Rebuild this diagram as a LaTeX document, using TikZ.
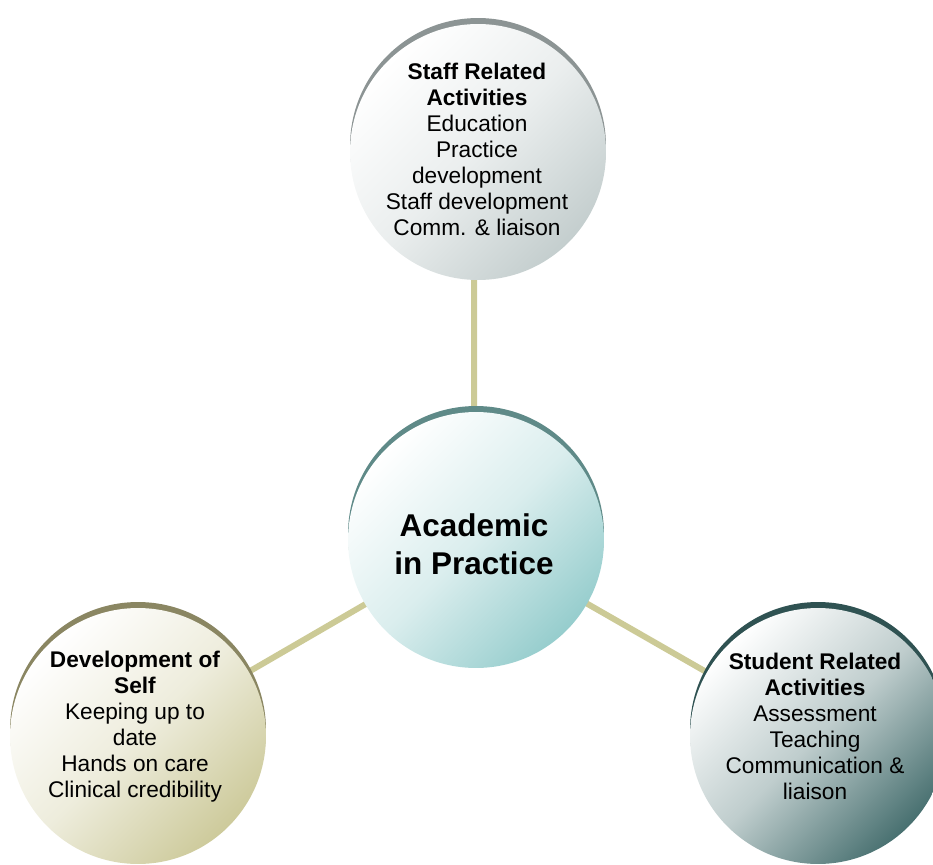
\documentclass[tikz,border=0pt]{standalone}
\usepackage{fontspec}
\setmainfont{Liberation Sans}
\usetikzlibrary{backgrounds}
\definecolor{link}{RGB}{204, 202, 150}
\definecolor{greyrim}{RGB}{140, 148, 148}
\definecolor{greybody}{RGB}{196, 206, 206}
\definecolor{tealrim}{RGB}{95, 138, 136}
\definecolor{tealbody}{RGB}{150, 205, 205}
\definecolor{olivrim}{RGB}{138, 134, 98}
\definecolor{olivbody}{RGB}{205, 202, 155}
\definecolor{darkrim}{RGB}{47, 82, 82}
\definecolor{darkbody}{RGB}{72, 112, 112}

\tikzset{
  bubble/.style 2 args={circle, minimum size=5.12cm, inner sep=0pt,
    preaction={fill=#2, transform canvas={yshift=0.12cm}},
    top color=white, bottom color=#1, middle color=#1!35!white, shading angle=45},
  small/.style={align=center, font=\fontsize{12.9}{14.8}\selectfont},
  big/.style={align=center, font=\fontsize{17.9}{21.6}\selectfont\bfseries}
}

\begin{document}
\begin{tikzpicture}[x=0.02cm, y=-0.02cm]
        \path[use as bounding box, clip] (0,0) rectangle (933,865);

        % circles
        \node[bubble={greybody}{greyrim}] (staff) at (478,152) {};
        \node[bubble={tealbody}{tealrim}] (academic) at (476,540) {};
        \node[bubble={olivbody}{olivrim}] (self) at (138,736) {};
        \node[bubble={darkbody}{darkrim}] (student) at (818,736) {};

        % texts
        \node[small] (staff-text) at ([xshift=-0.02cm, yshift=0.05cm]staff.center)
          {\textbf{Staff Related}\\ \textbf{Activities}\\ Education\\ Practice\\ development\\ Staff development\\ Comm. \& liaison};
        \node[big] (academic-text) at ([xshift=-0.04cm, yshift=-0.08cm]academic.center)
          {Academic\\ in Practice};
        \node[small] (self-text) at ([xshift=-0.06cm, yshift=0.18cm]self.center)
          {\textbf{Development of}\\ \textbf{Self}\\ Keeping up to\\ date\\ Hands on care\\ Clinical credibility};
        \node[small] (student-text) at ([xshift=-0.06cm, yshift=0.2cm]student.center)
          {\textbf{Student Related}\\ \textbf{Activities}\\ Assessment\\ Teaching\\ Communication \&\\ liaison};

        \begin{pgfonlayer}{background}
          \draw[link, line width=0.12cm] ([xshift=-0.08cm]staff.center) -- ([xshift=-0.04cm]academic.center);
          \draw[link, line width=0.12cm] (academic.center) -- (self.center);
          \draw[link, line width=0.12cm] (academic.center) -- (student.center);
        \end{pgfonlayer}

      \end{tikzpicture}
\end{document}
